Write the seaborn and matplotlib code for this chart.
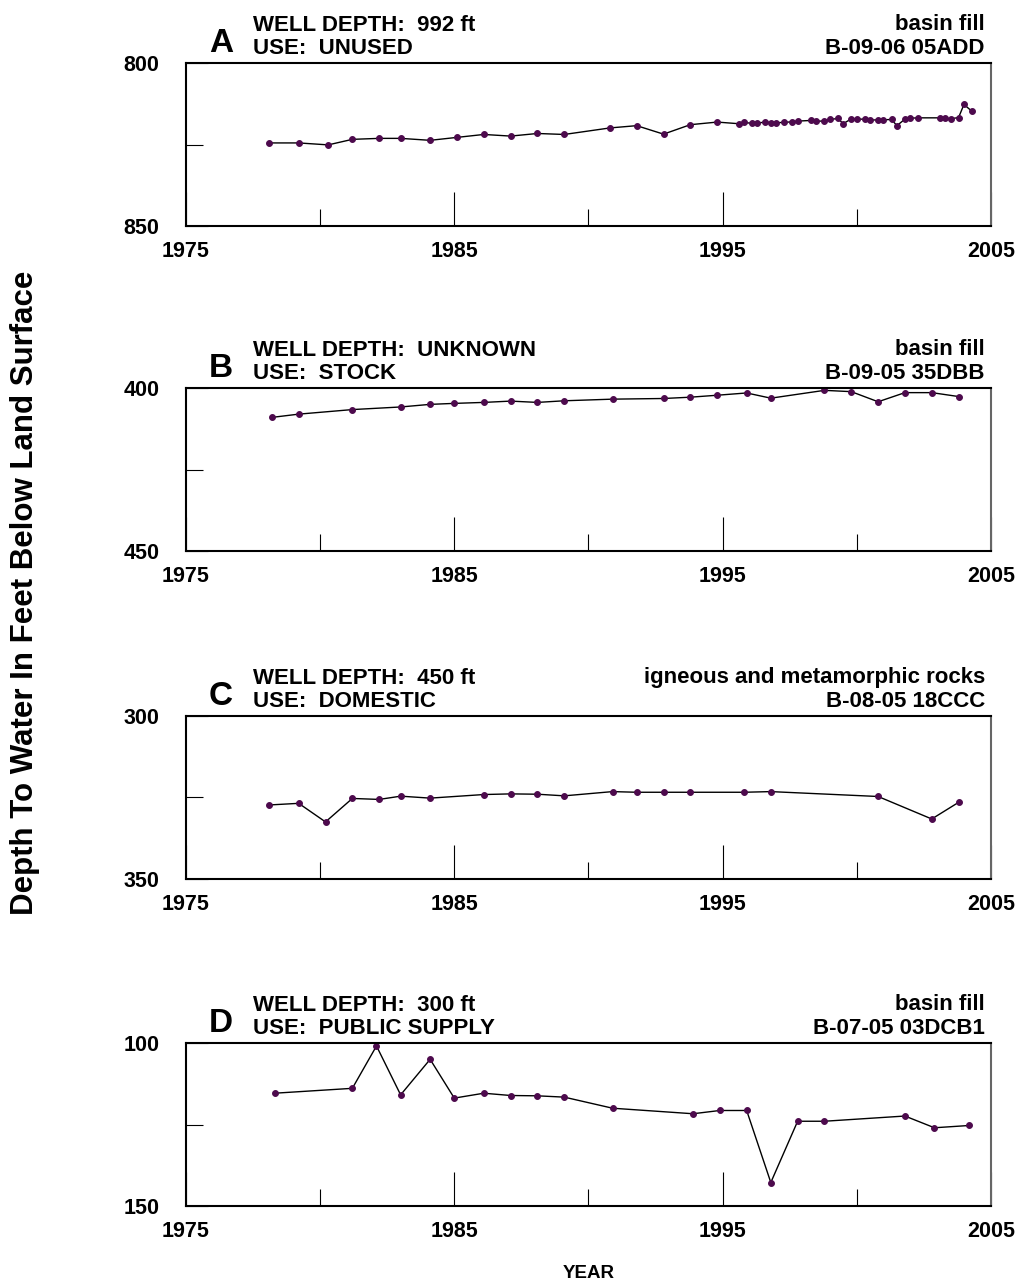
import matplotlib
matplotlib.use("Agg")
import matplotlib.pyplot as plt
import matplotlib.transforms as mtransforms
import pandas as pd
import seaborn as sns

# --- well A : B-09-06 05ADD ---
a_year = [1978.1, 1979.2, 1980.3, 1981.2, 1982.2, 1983.0, 1984.1, 1985.1, 1986.1,
          1987.1, 1988.1, 1989.1, 1990.8, 1991.8, 1992.8, 1993.8, 1994.8, 1995.6,
          1995.8, 1996.1, 1996.3, 1996.6, 1996.8, 1997.0, 1997.3, 1997.6, 1997.8,
          1998.3, 1998.5, 1998.8, 1999.0, 1999.3, 1999.5, 1999.8, 2000.0, 2000.3,
          2000.5, 2000.8, 2001.0, 2001.3, 2001.5, 2001.8, 2002.0, 2002.3, 2003.1,
          2003.3, 2003.5, 2003.8, 2004.0, 2004.3]
a_depth = [824.5, 824.5, 825.1, 823.4, 823.1, 823.1, 823.7, 822.8, 821.9,
           822.4, 821.6, 821.9, 819.9, 819.2, 821.8, 818.9, 818.1, 818.6,
           818.2, 818.5, 818.4, 818.1, 818.3, 818.3, 818.2, 818.0, 817.8,
           817.6, 817.9, 817.7, 817.3, 817.0, 818.6, 817.1, 817.2, 817.2,
           817.5, 817.4, 817.4, 817.3, 819.2, 817.2, 816.9, 816.8, 816.8,
           817.0, 817.1, 816.7, 812.7, 814.8]

# --- well B : B-09-05 35DBB ---
b_year = [1978.2, 1979.2, 1981.2, 1983.0, 1984.1, 1985.0, 1986.1, 1987.1, 1988.1,
          1989.1, 1990.9, 1992.8, 1993.8, 1994.8, 1995.9, 1996.8, 1998.8, 1999.8,
          2000.8, 2001.8, 2002.8, 2003.8]
b_depth = [409.0, 408.0, 406.6, 405.8, 405.0, 404.7, 404.4, 404.0, 404.4,
           403.9, 403.4, 403.2, 402.8, 402.2, 401.5, 403.1, 400.7, 401.1,
           404.2, 401.4, 401.4, 402.6]

# --- well C : B-08-05 18CCC ---
c_year = [1978.1, 1979.2, 1980.2, 1981.2, 1982.2, 1983.0, 1984.1, 1986.1, 1987.1,
          1988.1, 1989.1, 1990.9, 1991.8, 1992.8, 1993.8, 1995.8, 1996.8, 2000.8,
          2002.8, 2003.8]
c_depth = [327.3, 326.8, 332.5, 325.3, 325.6, 324.6, 325.2, 324.1, 323.9,
           324.0, 324.5, 323.2, 323.4, 323.4, 323.4, 323.4, 323.2, 324.7,
           331.6, 326.5]

# --- well D : B-07-05 03DCB1 ---
d_year = [1978.3, 1981.2, 1982.1, 1983.0, 1984.1, 1985.0, 1986.1, 1987.1, 1988.1,
          1989.1, 1990.9, 1993.9, 1994.9, 1995.9, 1996.8, 1997.8, 1998.8, 2001.8,
          2002.9, 2004.2]
d_depth = [115.4, 113.9, 100.9, 115.9, 105.0, 116.9, 115.4, 116.1, 116.2,
           116.6, 120.0, 121.7, 120.7, 120.7, 142.8, 124.0, 124.0, 122.4,
           126.0, 125.3]

letters = ["A", "B", "C", "D"]
depth_text = ["WELL DEPTH:  992 ft", "WELL DEPTH:  UNKNOWN", "WELL DEPTH:  450 ft", "WELL DEPTH:  300 ft"]
use_text = ["USE:  UNUSED", "USE:  STOCK", "USE:  DOMESTIC", "USE:  PUBLIC SUPPLY"]
aquifer = ["basin fill", "basin fill", "igneous and metamorphic rocks", "basin fill"]
site_id = ["B-09-06 05ADD", "B-09-05 35DBB", "B-08-05 18CCC", "B-07-05 03DCB1"]
y_top = [800, 400, 300, 100]
years = [a_year, b_year, c_year, d_year]
depths = [a_depth, b_depth, c_depth, d_depth]

sns.set_style("white")
plt.rcParams['font.family'] = ['Liberation Sans', 'DejaVu Sans']
plt.rcParams['font.weight'] = 'bold'
plt.rcParams['text.color'] = 'black'
plt.rcParams['xtick.color'] = 'black'
plt.rcParams['ytick.color'] = 'black'

dot = '#4d0a4d'
fig = plt.figure(figsize=(10.21, 12.85), dpi=100)
bottoms = [0.8241, 0.5712, 0.3160, 0.0615]

for i in range(4):
    ax = fig.add_axes([0.1822, bottoms[i], 0.7882, 0.1268])
    df = pd.DataFrame({'year': years[i], 'depth': depths[i]})
    sns.lineplot(data=df, x='year', y='depth', ax=ax, color='black', lw=1,
                 marker='o', markersize=4.2, markerfacecolor=dot,
                 markeredgecolor=dot, estimator=None)
    top = y_top[i]
    ax.set_xlim(1975, 2005)
    ax.set_ylim(top + 50, top)
    ax.set_xticks([1975, 1985, 1995, 2005])
    ax.set_xticks([1980, 1990, 2000], minor=True)
    ax.set_yticks([top, top + 50])
    ax.set_yticks([top + 25], minor=True)
    ax.tick_params(axis='x', which='major', direction='in', length=24.5, width=0.8,
                   pad=11, labelsize=15.5, bottom=True)
    ax.tick_params(axis='x', which='minor', direction='in', length=12, width=0.8, bottom=True)
    ax.tick_params(axis='y', which='major', direction='in', length=16, width=0.8,
                   pad=19, labelsize=15.5, left=True)
    ax.tick_params(axis='y', which='minor', direction='in', length=12, width=0.8, left=True)
    ax.set_xlabel('')
    ax.set_ylabel('')
    for s in ax.spines.values():
        s.set_color('black')
        s.set_linewidth(1.5)
    ax.spines['right'].set_color('#666666')

    def tr(dx, dy):
        return mtransforms.offset_copy(ax.transAxes, fig=fig, x=dx, y=dy, units='dots')

    ax.text(0, 1, letters[i], transform=tr(23, 11), fontsize=24, ha='left', va='baseline')
    ax.text(0, 1, depth_text[i], transform=tr(67, 32), fontsize=16, ha='left', va='baseline')
    ax.text(0, 1, use_text[i], transform=tr(67, 9), fontsize=16, ha='left', va='baseline')
    ax.text(1, 1, aquifer[i], transform=tr(-6, 33), fontsize=16, ha='right', va='baseline')
    ax.text(1, 1, site_id[i], transform=tr(-6, 9), fontsize=16, ha='right', va='baseline')

fig.text(25 / 1021, 1 - 593 / 1285, 'Depth To Water In Feet Below Land Surface',
         rotation=90, ha='center', va='center', fontsize=22.5)
fig.text(589 / 1021, 1 - 1274 / 1285, 'YEAR', ha='center', va='center', fontsize=13.5)

fig.savefig('out.png', dpi=100)
